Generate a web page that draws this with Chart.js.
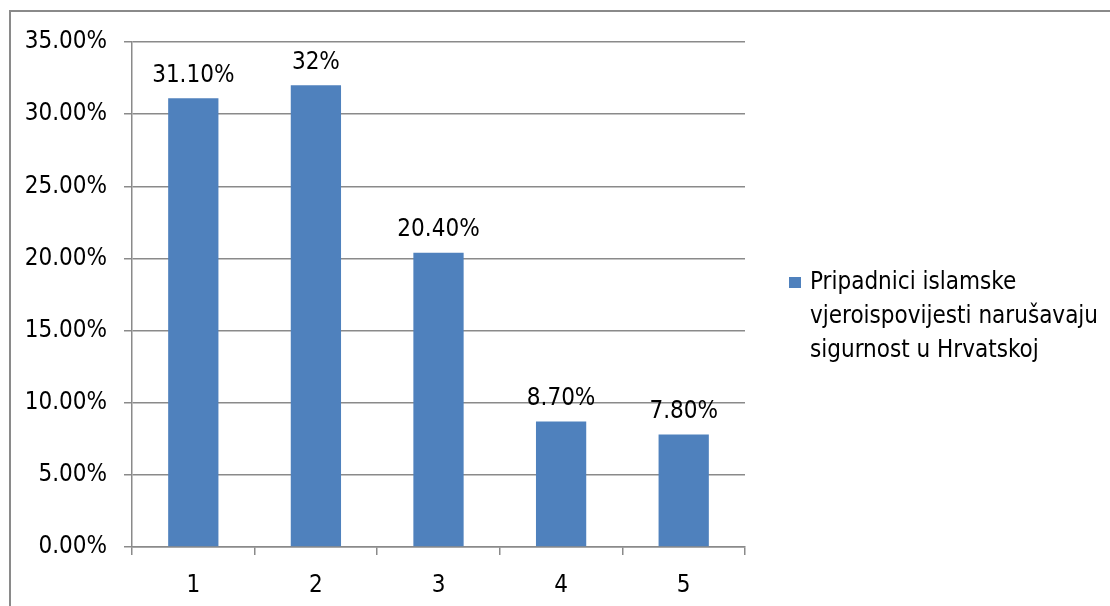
<!DOCTYPE html>
<html><head><meta charset="utf-8">
<script src="https://cdn.jsdelivr.net/npm/chart.js@4/dist/chart.umd.min.js"></script>
<style>html,body{margin:0;padding:0;background:#fff;}#wrap{width:1110px;height:606px;position:relative;}</style>
</head><body><div id="wrap"><canvas id="c" width="1110" height="606"></canvas></div>
<script>
const categories = ['1', '2', '3', '4', '5'];
const values = [31.1, 32, 20.4, 8.7, 7.8];
const valueLabels = ['31.10%', '32%', '20.40%', '8.70%', '7.80%'];
const seriesName = ['Pripadnici islamske', 'vjeroispovijesti narušavaju', 'sigurnost u Hrvatskoj'];
const yTicks = [0, 5, 10, 15, 20, 25, 30, 35];

const FONT = '"Liberation Sans Narrow", "DejaVu Sans Condensed", sans-serif';
const FS = 24;
const GRID = '#8a8a8a';
const BAR = '#4f81bd';

const extras = {
  id: 'extras',
  beforeDraw(chart) {
    const ctx = chart.ctx;
    ctx.save();
    ctx.fillStyle = '#fff';
    ctx.fillRect(0, 0, chart.width, chart.height);
    ctx.strokeStyle = '#8a8a8a';
    ctx.lineWidth = 2;
    ctx.strokeRect(10, 11, 1300, 800);
    ctx.restore();
  },
  afterDatasetsDraw(chart) {
    const ctx = chart.ctx;
    const meta = chart.getDatasetMeta(0);
    ctx.save();
    ctx.font = FS + 'px ' + FONT;
    ctx.fillStyle = '#000';
    ctx.textAlign = 'center';
    ctx.textBaseline = 'middle';
    meta.data.forEach((el, i) => {
      ctx.fillText(valueLabels[i], el.x, el.y - 23);
    });
    // legend
    const lx = 789, ly = 277;
    ctx.fillStyle = chart.data.datasets[0].backgroundColor;
    ctx.fillRect(lx, ly, 12, 11);
    ctx.fillStyle = '#000';
    ctx.textAlign = 'left';
    seriesName.forEach((t, i) => ctx.fillText(t, 810, 283 + i * 34));
    ctx.restore();
  }
};

new Chart(document.getElementById('c'), {
  type: 'bar',
  data: {
    labels: categories,
    datasets: [{ label: seriesName.join(' '), data: values, backgroundColor: BAR, barPercentage: 0.41, categoryPercentage: 1 }]
  },
  options: {
    responsive: false,
    animation: false,
    layout: { padding: { left: 0, right: 365, top: 42, bottom: 0 } },
    plugins: { legend: { display: false }, tooltip: { enabled: false } },
    scales: {
      x: {
        offset: true,
        grid: { offset: true, drawOnChartArea: false, drawTicks: true, tickLength: 8, color: GRID, lineWidth: 1.5 },
        border: { color: GRID, width: 1.5 },
        ticks: { color: '#000', font: { family: FONT, size: FS }, padding: 16 },
        afterFit(s) { s.height = 59; }
      },
      y: {
        min: 0, max: 35,
        afterBuildTicks(s) { s.ticks = yTicks.map(v => ({ value: v })); },
        grid: { color: GRID, lineWidth: 1.5, tickLength: 8 },
        border: { color: GRID, width: 1.5 },
        ticks: { color: '#000', font: { family: FONT, size: FS }, padding: 17, callback: v => v.toFixed(2) + '%' },
        afterFit(s) { s.width = 132; }
      }
    }
  },
  plugins: [extras]
});
</script></body></html>
